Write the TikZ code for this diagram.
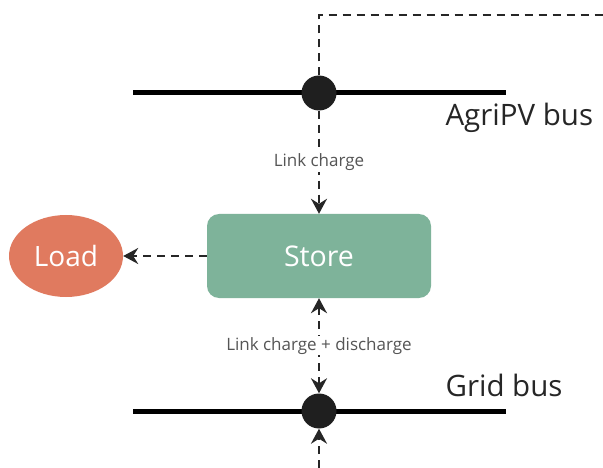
\documentclass[tikz,border=0pt]{standalone}
\usepackage{fontspec}
\setmainfont{Open Sans}
\usetikzlibrary{arrows.meta,shapes.geometric}
\definecolor{storegreen}{HTML}{7EB39A}
\definecolor{loadred}{HTML}{E07A5F}
\definecolor{labelgrey}{HTML}{555555}
\tikzset{
  busline/.style={line width=5pt},
  busdot/.style={circle, fill=black!88, inner sep=0pt, minimum size=35pt},
  dashline/.style={dash pattern=on 8pt off 6pt, line width=2.2pt, black!85},
  flow/.style={dashline, -{Stealth[length=15pt,width=16pt,inset=5pt]}},
  linklabel/.style={fill=white, text=labelgrey, font=\fontsize{17}{20}\selectfont, inner sep=1pt},
  buslabel/.style={anchor=west, text=black!85, font=\fontsize{29.5}{34}\selectfont},
}
\begin{document}
\begin{tikzpicture}[x=1pt,y=-1pt]
  \useasboundingbox (0,0) rectangle (603,468);

  % AgriPV bus
  \coordinate (agL) at (133,93);
  \coordinate (agR) at (506,93);
  \draw[busline] (agL) -- (agR);
  \node[busdot] (agdot) at (319,93) {};
  \node[buslabel] (aglabel) at (442,118) {AgriPV bus};

  % Grid bus
  \coordinate (grL) at (133,411);
  \coordinate (grR) at (506,411);
  \draw[busline] (grL) -- (grR);
  \node[busdot] (grdot) at (319,411) {};
  \node[buslabel] (grlabel) at (442,385) {Grid bus};

  % Store and load
  \node[rounded corners=12pt, fill=storegreen, minimum width=224pt, minimum height=84pt,
        text=white, font=\fontsize{28.5}{32}\selectfont] (store) at (319,256) {Store};
  \node[ellipse, fill=loadred, minimum width=114pt, minimum height=82pt, inner sep=0pt,
        text=white, font=\fontsize{28}{32}\selectfont] (load) at (66,256) {Load};

  % Dashed feed line leaving at the top right
  \coordinate (topcorner) at (319,15);
  \coordinate (topright) at (603,15);
  \draw[dashline] (agdot.north) -- (topcorner) -- (topright);

  % Links
  \draw[flow] (agdot.south) -- node[linklabel] {Link charge} (store.north);
  \draw[flow] (store.west) -- (load.east);
  \draw[dashline, {Stealth[length=15pt,width=16pt,inset=5pt]}-{Stealth[length=15pt,width=16pt,inset=5pt]}]
    (store.south) -- node[linklabel] {Link charge + discharge} (grdot.north);
  \coordinate (bottomin) at (319,468);
  \draw[flow] (bottomin) -- (grdot.south);
\end{tikzpicture}
\end{document}
